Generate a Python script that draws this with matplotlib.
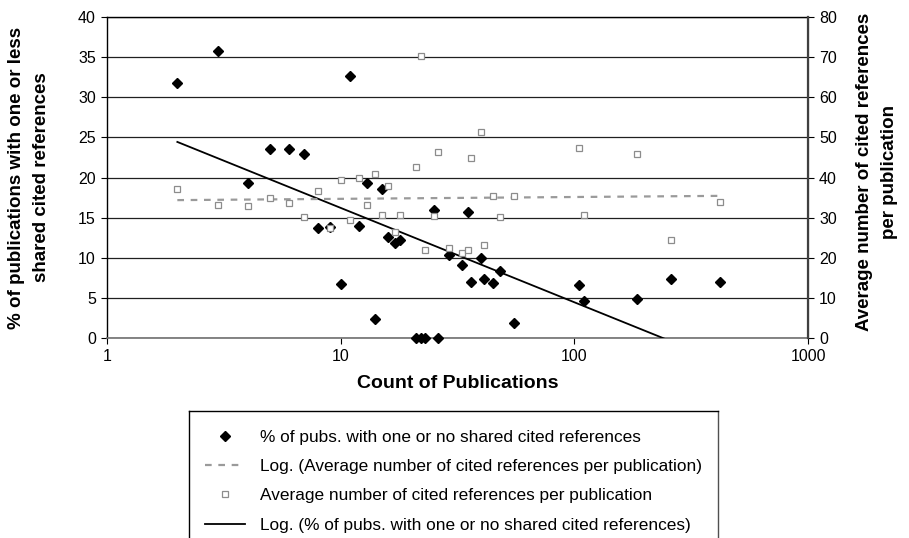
import numpy as np
import matplotlib
matplotlib.use('Agg')
import matplotlib.pyplot as plt
from matplotlib.lines import Line2D

plt.rcParams['font.family'] = ['Liberation Sans', 'DejaVu Sans']

# count of publications per group
count = [2, 3, 4, 5, 6, 7, 8, 9, 10, 11, 12, 13, 14, 15, 16, 17, 18,
         21, 22, 23, 25, 26, 29, 33, 35, 36, 40, 41, 45, 48, 55,
         105, 110, 186, 260, 420]
# % of pubs. with one or no shared cited references (left axis)
pct_shared = [31.8, 35.8, 19.3, 23.6, 23.6, 22.9, 13.7, 13.8, 6.7, 32.7, 13.9, 19.3, 2.4,
              18.6, 12.6, 11.9, 12.2, 0, 0, 0, 16.0, 0, 10.4, 9.1, 15.7, 7.0, 10.0, 7.4,
              6.8, 8.4, 1.9, 6.6, 4.6, 4.9, 7.4, 7.0]
# average number of cited references per publication (right axis)
avg_refs = [37.2, 33.1, 33.0, 34.8, 33.6, 30.1, 36.6, 27.5, 39.5, 29.5, 39.9, 33.1, 40.9,
            30.6, 38.0, 26.3, 30.6, 42.5, 70.3, 22.0, 30.3, 46.3, 22.5, 21.2, 22.0, 44.8,
            51.4, 23.3, 35.5, 30.1, 35.5, 47.4, 30.7, 45.9, 24.4, 33.8]

lbl_pct = '% of pubs. with one or no shared cited references'
lbl_avg = 'Average number of cited references per publication'

W, H = 909, 538
fig = plt.figure(figsize=(W / 100, H / 100), dpi=100)
ax = fig.add_axes([107 / W, 1 - 338 / H, (808 - 107) / W, (338 - 17) / H])

x = np.array(count, dtype=float)
lx = np.log(x)
xs = np.linspace(x.min(), x.max(), 200)

# logarithmic trend lines (least squares on ln x), like the spreadsheet does
a1, b1 = np.polyfit(lx, pct_shared, 1)
a2, b2 = np.polyfit(lx, avg_refs, 1)

ax.plot(xs, a1 * np.log(xs) + b1, color='black', lw=1.3, zorder=3)
ax.plot(x, pct_shared, 'D', color='black', ms=5, zorder=4, clip_on=False)

ax.set_xscale('log')
ax.set_xlim(1, 1000)
ax.set_ylim(0, 40)
ax.set_yticks(range(0, 41, 5))
ax.set_xticks([1, 10, 100, 1000])
ax.set_xticklabels(['1', '10', '100', '1000'])
ax.minorticks_off()
ax.yaxis.grid(True, color='#202020', lw=0.9)
ax.set_axisbelow(True)
ax.tick_params(direction='out', length=4, width=0.8, labelsize=11.5, pad=4)
for s in ['left', 'top']:
    ax.spines[s].set_color('black')
    ax.spines[s].set_linewidth(1.0)
ax.spines['bottom'].set_color('#707070')
ax.spines['bottom'].set_linewidth(1.2)

ax2 = ax.twinx()
ax2.plot(xs, a2 * np.log(xs) + b2, color='#9a9a9a', lw=1.6, ls=(0, (3, 3)), zorder=3)
ax2.plot(x, avg_refs, 's', ms=5, mfc='white', mec='#8c8c8c', mew=0.9, zorder=5)
ax2.set_ylim(0, 80)
ax2.set_yticks(range(0, 81, 10))
ax2.tick_params(direction='out', length=4, width=0.8, labelsize=11.5, pad=4)
ax2.spines['right'].set_color('#404040')
ax2.spines['right'].set_linewidth(1.6)
ax2.spines['left'].set_visible(False)
ax2.spines['top'].set_visible(False)
ax2.spines['bottom'].set_visible(False)

fig.text(29 / W, 1 - 177.5 / H, '% of publications with one or less\nshared cited references',
         rotation=90, ha='center', va='center', fontsize=13.5, fontweight='bold',
         linespacing=1.68)
fig.text(877 / W, 1 - 172 / H, 'Average number of cited references\nper publication',
         rotation=90, ha='center', va='center', fontsize=13.5, fontweight='bold',
         linespacing=1.68)
fig.text(457.5 / W, 1 - 383 / H, 'Count of Publications', ha='center', va='center',
         fontsize=14, fontweight='bold')

# legend box, cut off by the bottom edge
lax = fig.add_axes([189 / W, 0, (718 - 189) / W, (538 - 411) / H])
lax.set_xticks([])
lax.set_yticks([])
lax.spines['bottom'].set_visible(False)
for s in ['left', 'top', 'right']:
    lax.spines[s].set_linewidth(1.0)
lax.spines['right'].set_color('#505050')

handles = [
    Line2D([], [], ls='none', marker='D', color='black', ms=5),
    Line2D([], [], color='#9a9a9a', lw=1.6, ls=(0, (3, 3))),
    Line2D([], [], ls='none', marker='s', ms=5, mfc='white', mec='#8c8c8c', mew=0.9),
    Line2D([], [], color='black', lw=1.3),
]
labels = [lbl_pct, 'Log. (' + lbl_avg + ')', lbl_avg, 'Log. (' + lbl_pct + ')']
fig.legend(handles, labels, loc='upper left', bbox_to_anchor=(205 / W, 1 - 430 / H),
           frameon=False, fontsize=12.4, borderpad=0, borderaxespad=0,
           handlelength=2.33, handletextpad=0.87, labelspacing=0.82)

fig.savefig('out.png', dpi=100)
